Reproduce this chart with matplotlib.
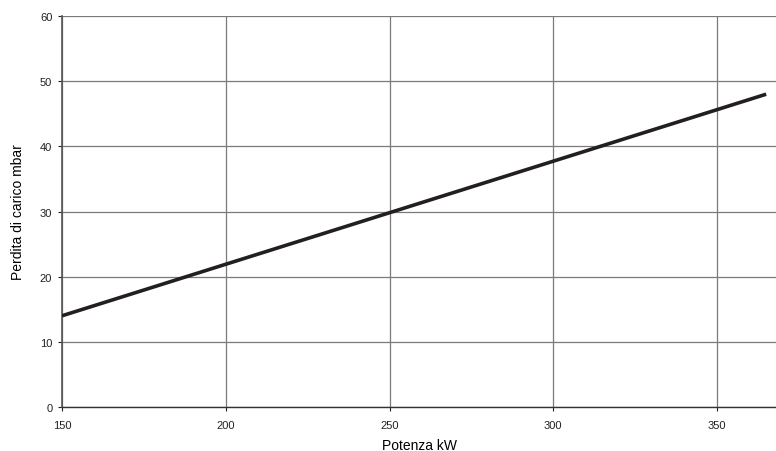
import matplotlib
matplotlib.use("Agg")
import matplotlib.pyplot as plt

# ===== DATA =====
potenza_kw = [150, 365]
perdita_mbar = [14, 48]

x_ticks = [150, 200, 250, 300, 350]
y_ticks = [0, 10, 20, 30, 40, 50, 60]

plt.rcParams['font.family'] = ['Liberation Sans', 'DejaVu Sans']

# ===== FIGURE =====
fig = plt.figure(figsize=(7.76, 4.52), dpi=100)
ax = fig.add_axes([0.0799, 0.0973, 0.9201, 0.8651])

ax.plot(potenza_kw, perdita_mbar, color='#231f20', linewidth=2.6,
        solid_capstyle='butt', zorder=3)

ax.set_xlim(150, 368)
ax.set_ylim(0, 60)
ax.set_xticks(x_ticks)
ax.set_yticks(y_ticks)

ax.grid(True, color='#7a7a7a', linewidth=0.9)
ax.set_axisbelow(True)

for side in ['right', 'top']:
    ax.spines[side].set_visible(False)
ax.spines['left'].set_color('#555555')
ax.spines['left'].set_linewidth(1.2)
ax.spines['bottom'].set_color('#333333')
ax.spines['bottom'].set_linewidth(1.0)

ax.tick_params(axis='both', labelsize=8, colors='#222222', length=3,
               width=0.8, pad=4)
ax.tick_params(axis='x', pad=6)

ax.set_xlabel("Potenza kW", fontsize=10, labelpad=6)
ax.set_ylabel("Perdita di carico mbar", fontsize=10, labelpad=11)

plt.savefig("out.png", dpi=100)
